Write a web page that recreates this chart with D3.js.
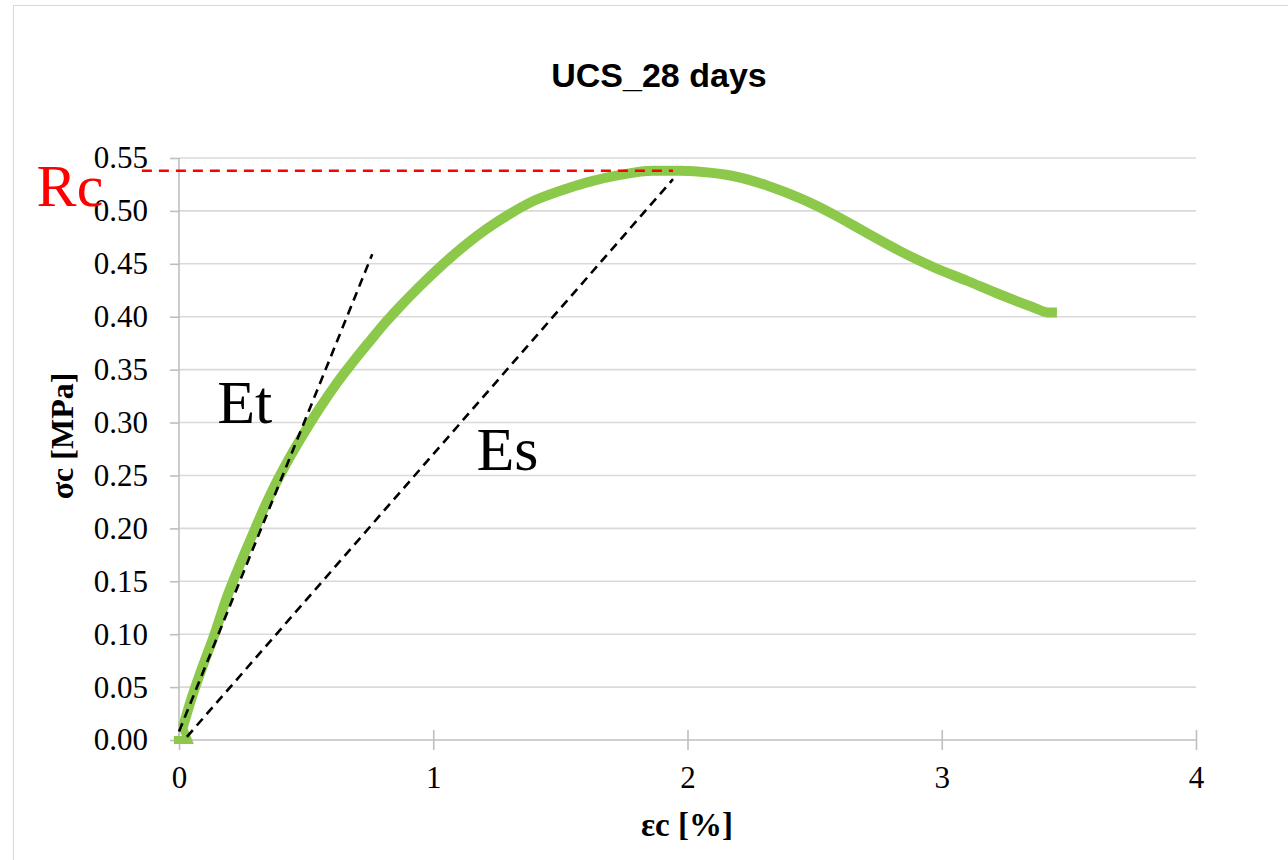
<!DOCTYPE html>
<html>
<head>
<meta charset="utf-8">
<script src="https://cdn.jsdelivr.net/npm/d3@7"></script>
<style>
  body { margin: 0; background: #fff; }
  svg { display: block; }
</style>
</head>
<body>
<svg id="chart" width="1288" height="860"></svg>
<script>
// ---- data ----
const title = "UCS_28 days";
const xLabel = "εc [%]";
const yLabel = "σc [MPa]";
const xTicks = [0, 1, 2, 3, 4];
const yTicks = [0, 0.05, 0.10, 0.15, 0.20, 0.25, 0.30, 0.35, 0.40, 0.45, 0.50, 0.55];

const strain = [-0.02, 0.035, 0.015, 0.05, 0.092, 0.14, 0.184, 0.24, 0.30, 0.34, 0.384, 0.44, 0.502, 0.56, 0.62, 0.69, 0.751, 0.81, 0.863, 0.948, 1.078, 1.21, 1.30, 1.40, 1.50, 1.605, 1.735, 1.864, 1.97, 2.049, 2.179, 2.313, 2.442, 2.572, 2.706, 2.836, 2.966, 3.099, 3.229, 3.359, 3.418, 3.453];
const stress = [0, 0, 0.012, 0.04, 0.069, 0.10, 0.132, 0.166, 0.200, 0.222, 0.244, 0.269, 0.294, 0.316, 0.337, 0.359, 0.377, 0.394, 0.408, 0.429, 0.458, 0.483, 0.497, 0.510, 0.519, 0.527, 0.534, 0.538, 0.538, 0.537, 0.533, 0.524, 0.512, 0.497, 0.479, 0.462, 0.447, 0.434, 0.421, 0.409, 0.404, 0.404];

// reference lines
const etLineX = [0.0, 0.76];
const etLineY = [0.008, 0.459];
const esLineX = [0.031, 1.943];
const esLineY = [0.003, 0.530];
const rcLineX = [-0.146, 1.943];
const rcLineY = [0.538, 0.538];

const annotations = [
  { text: "Rc", x: -0.56, y: 0.505, color: "#ff0000", size: 60 },
  { text: "Et", x: 0.15, y: 0.300, color: "#000000", size: 62 },
  { text: "Es", x: 1.17, y: 0.255, color: "#000000", size: 62 }
];

// ---- layout ----
const svg = d3.select("#chart");
const pLeft = 179, pRight = 1196, pTop = 158, pBottom = 740;
const x = d3.scaleLinear().domain([0, 4]).range([pLeft, pRight]);
const y = d3.scaleLinear().domain([0, 0.55]).range([pBottom, pTop]);

// chart border
svg.append("rect").attr("x", 13.5).attr("y", 5.5).attr("width", 1300).attr("height", 900)
  .attr("fill", "#fff").attr("stroke", "#d9d9d9").attr("stroke-width", 1);

// gridlines
svg.append("g").selectAll("line").data(yTicks.slice(1)).join("line")
  .attr("x1", pLeft).attr("x2", pRight)
  .attr("y1", d => y(d)).attr("y2", d => y(d))
  .attr("stroke", "#d9d9d9").attr("stroke-width", 1.6);

// y axis
const yAxis = d3.axisLeft(y).tickValues(yTicks).tickFormat(d3.format(".2f")).tickSize(9).tickPadding(22);
const gy = svg.append("g").attr("transform", `translate(${pLeft},0)`).call(yAxis);
gy.select(".domain").attr("stroke", "#bfbfbf").attr("stroke-width", 1.6).attr("d", `M0,${pTop}V${pBottom}`);
gy.selectAll(".tick line").attr("stroke", "#bfbfbf").attr("stroke-width", 1.6);
gy.selectAll(".tick text").attr("font-family", "Liberation Serif, serif").attr("font-size", 31).attr("fill", "#000");

// x axis
const xAxis = d3.axisBottom(x).tickValues(xTicks).tickFormat(d3.format("d")).tickSize(10).tickPadding(16);
const gx = svg.append("g").attr("transform", `translate(0,${pBottom})`).call(xAxis);
gx.select(".domain").attr("stroke", "#bfbfbf").attr("stroke-width", 1.6).attr("d", `M${pLeft},0H${pRight}`);
gx.selectAll(".tick line").attr("stroke", "#bfbfbf").attr("stroke-width", 1.6).attr("y1", -10).attr("y2", 10);
gx.selectAll(".tick text").attr("font-family", "Liberation Serif, serif").attr("font-size", 31).attr("fill", "#000");

// title
svg.append("text").attr("x", 659).attr("y", 87).attr("text-anchor", "middle")
  .attr("font-family", "Liberation Sans, Arial, sans-serif").attr("font-weight", "bold").attr("font-size", 34)
  .attr("fill", "#000").text(title);

// axis titles
svg.append("text").attr("x", 687).attr("y", 836).attr("text-anchor", "middle")
  .attr("font-family", "Liberation Serif, serif").attr("font-weight", "bold").attr("font-size", 33)
  .attr("fill", "#000").text(xLabel);
svg.append("text").attr("transform", `translate(73,436) rotate(-90)`).attr("text-anchor", "middle")
  .attr("font-family", "Liberation Serif, serif").attr("font-weight", "bold").attr("font-size", 32)
  .attr("fill", "#000").text(yLabel);

// data curve
const pts = strain.map((s, i) => [s, stress[i]]);
const line = d3.line().x(d => x(d[0])).y(d => y(d[1]));
const smooth = d3.line().x(d => x(d[0])).y(d => y(d[1])).curve(d3.curveMonotoneX);
svg.append("path").attr("d", line(pts.slice(0, 3))).attr("fill", "none")
  .attr("stroke", "#8cc94b").attr("stroke-width", 8);
svg.append("path").attr("d", smooth(pts.slice(2))).attr("fill", "none")
  .attr("stroke", "#8cc94b").attr("stroke-width", 10);

// reference lines
function refLine(xs, ys, color, dash, w) {
  svg.append("path").attr("d", line(xs.map((v, i) => [v, ys[i]])))
    .attr("fill", "none").attr("stroke", color).attr("stroke-width", w).attr("stroke-dasharray", dash);
}
refLine(etLineX, etLineY, "#000", "9,6", 2.6);
refLine(esLineX, esLineY, "#000", "9,6", 2.6);
refLine(rcLineX, rcLineY, "#ff0000", "10,7", 2.5);

// annotations
svg.append("g").selectAll("text").data(annotations).join("text")
  .attr("x", d => x(d.x)).attr("y", d => y(d.y))
  .attr("font-family", "Liberation Serif, serif").attr("font-size", d => d.size)
  .attr("fill", d => d.color).text(d => d.text);
</script>
</body>
</html>
